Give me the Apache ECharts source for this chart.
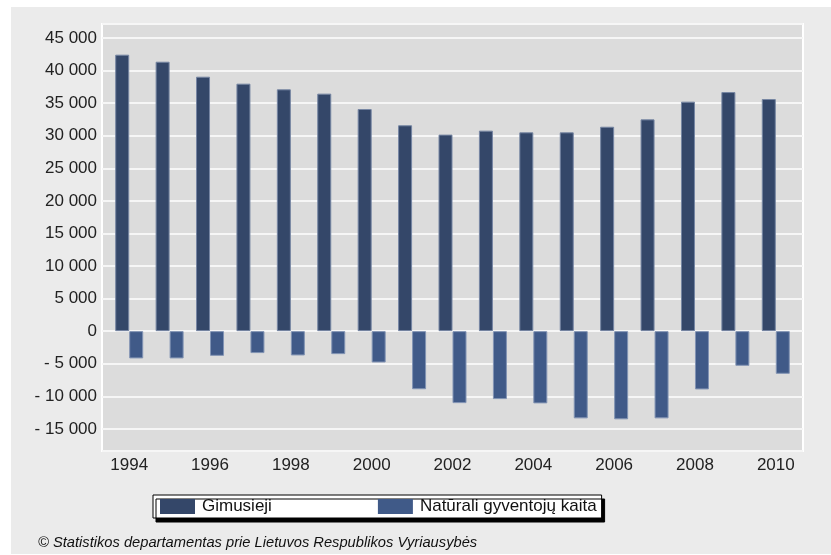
<!DOCTYPE html>
<html>
<head>
<meta charset="utf-8">
<script src="https://cdn.jsdelivr.net/npm/echarts@6/dist/echarts.min.js"></script>
<style>
  html, body { margin: 0; padding: 0; background: #fff; }
  #wrap { position: relative; width: 831px; height: 555px; }
  #panel { position: absolute; left: 11px; top: 7px; width: 820px; height: 547px; background: #ebebeb; }
  #chart { position: absolute; left: 0; top: 0; width: 831px; height: 555px; }
</style>
</head>
<body>
<div id="wrap">
  <div id="panel"></div>
  <div id="chart"></div>
</div>
<script>
// metai
const years = ['1994', '1995', '1996', '1997', '1998', '1999', '2000', '2001', '2002',
  '2003', '2004', '2005', '2006', '2007', '2008', '2009', '2010']

// Gimusieji
const births = [42440, 41360, 39060, 37990, 37120, 36460, 34100, 31600, 30170,
  30780, 30520, 30520, 31380, 32510, 35230, 36700, 35630]

// Natūrali gyventojų kaita
const naturalChange = [-4190, -4190, -3790, -3370, -3730, -3530, -4810, -8920, -11050,
  -10430, -11090, -13390, -13540, -13390, -8950, -5320, -6550]

const seriesNames = ['Gimusieji', 'Natūrali gyventojų kaita']
const footer = '© Statistikos departamentas prie Lietuvos Respublikos Vyriausybės'

// y asies ribos (kaip paveikslėlyje)
const yMin = -18400
const yMax = 47150

function fmt(v) {
  const s = Math.abs(v).toString().replace(/\B(?=(\d{3})+(?!\d))/g, ' ')
  return v < 0 ? '- ' + s : s
}

const labelFont = { fontFamily: '"Liberation Sans", sans-serif', fontSize: 17, color: '#222' }

const chart = echarts.init(document.getElementById('chart'))
chart.setOption({
  animation: false,
  backgroundColor: 'transparent',
  title: {
    text: footer,
    left: 38,
    top: 535,
    padding: 0,
    textStyle: { fontSize: 14.7, fontStyle: 'italic', fontWeight: 'normal', color: '#111', fontFamily: '"Liberation Sans", sans-serif' }
  },
  legend: {
    left: 153,
    top: 495,
    padding: [3, 5, 3, 7],
    itemWidth: 35,
    itemHeight: 15,
    itemGap: 106,
    itemStyle: { borderWidth: 0 },
    icon: 'rect',
    backgroundColor: '#fff',
    borderColor: '#000',
    borderWidth: 1,
    shadowColor: '#000',
    shadowBlur: 0,
    shadowOffsetX: 3,
    shadowOffsetY: 4,
    textStyle: { fontFamily: '"Liberation Sans", sans-serif', fontSize: 17, color: '#111', padding: [0, 0, 0, 2] },
    data: seriesNames
  },
  grid: [
    // fonas su linijomis
    { left: 102, right: 28, top: 24, bottom: 104, show: true, backgroundColor: '#dcdcdc', borderColor: '#fff', borderWidth: 2 },
    // stulpeliai
    { left: 109, right: 35, top: 24, bottom: 104 }
  ],
  xAxis: [
    { gridIndex: 0, type: 'category', data: years, show: false },
    {
      gridIndex: 1,
      type: 'category',
      data: years,
      axisLine: { show: false },
      axisTick: { show: false },
      axisLabel: Object.assign({ interval: 1, margin: 6 }, labelFont)
    }
  ],
  yAxis: [
    {
      gridIndex: 0,
      type: 'value',
      min: yMin,
      max: yMax,
      splitNumber: 13,
      axisLine: { show: false },
      axisTick: { show: false },
      axisLabel: Object.assign({ margin: 5, showMinLabel: false, showMaxLabel: false, formatter: fmt }, labelFont),
      splitLine: { lineStyle: { color: '#f6f6f6', width: 2 } }
    },
    { gridIndex: 1, type: 'value', min: yMin, max: yMax, show: false, splitLine: { show: false } }
  ],
  series: [
    {
      name: seriesNames[0],
      type: 'bar',
      xAxisIndex: 1,
      yAxisIndex: 1,
      data: births,
      barWidth: 14,
      barGap: '0%',
      itemStyle: { color: '#344769', borderColor: '#7686a3', borderWidth: 1 }
    },
    {
      name: seriesNames[1],
      type: 'bar',
      xAxisIndex: 1,
      yAxisIndex: 1,
      data: naturalChange,
      barWidth: 14,
      barGap: '0%',
      itemStyle: { color: '#405a88', borderColor: '#8294b4', borderWidth: 1 }
    }
  ]
})
</script>
</body>
</html>
